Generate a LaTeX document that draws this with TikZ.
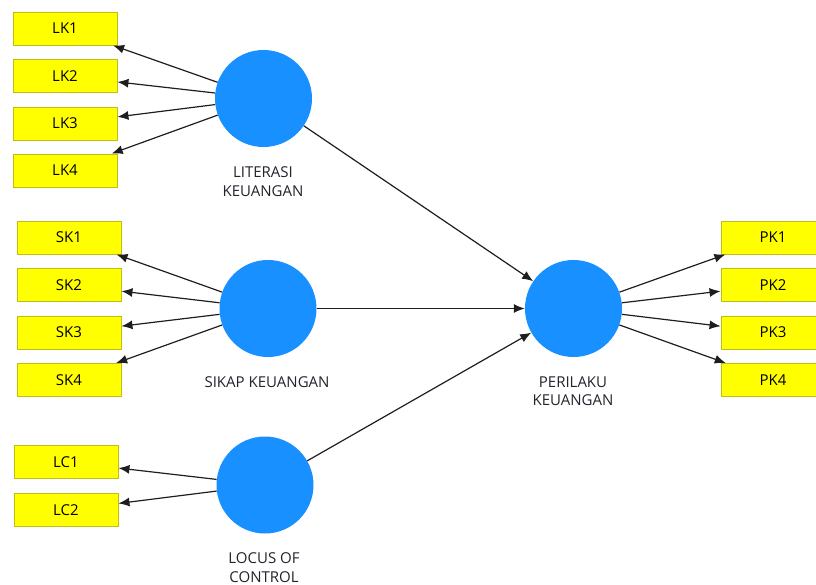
\documentclass[tikz,border=0pt]{standalone}
\usepackage{fontspec}
\setmainfont{Open Sans}
\usetikzlibrary{arrows.meta}
\definecolor{boxyellow}{RGB}{255,255,0}
\definecolor{boxedge}{RGB}{190,190,20}
\definecolor{latblue}{RGB}{24,144,255}
\definecolor{linegray}{RGB}{30,30,30}
\definecolor{labgray}{RGB}{35,35,45}
\tikzset{
  ind/.style={draw=boxedge, line width=0.9pt, fill=boxyellow, minimum width=104pt, minimum height=33pt, inner sep=0pt, font=\fontsize{15}{17}\selectfont},
  lat/.style={circle, fill=latblue, minimum size=97pt, inner sep=0pt},
  lab/.style={align=center, text=labgray, font=\fontsize{15}{18.5}\selectfont, inner sep=0pt},
  arr/.style={draw=linegray, line width=1.2pt, -{Latex[length=11pt,width=9pt]}}
}
\begin{document}
\begin{tikzpicture}[x=1pt,y=-1pt]
\useasboundingbox (0,0) rectangle (816,585);
\clip (0,0) rectangle (816,585);
% latent variables
\node[lat] (lit) at (263.5,98.5) {};
\node[lat] (sik) at (268,308.5) {};
\node[lat] (loc) at (265,485) {};
\node[lat] (per) at (573.5,308.5) {};
% labels
\node[lab] (litlab) at (263,181.5) {LITERASI\\KEUANGAN};
\node[lab] (siklab) at (267,382) {SIKAP KEUANGAN};
\node[lab] (loclab) at (264,567.5) {LOCUS OF\\CONTROL};
\node[lab] (perlab) at (573,391) {PERILAKU\\KEUANGAN};
% indicators
\node[ind] (lk1) at (65,28.5) {LK1};
\node[ind] (lk2) at (65,76) {LK2};
\node[ind] (lk3) at (65,123.5) {LK3};
\node[ind] (lk4) at (65,170.5) {LK4};
\node[ind] (sk1) at (69,237.5) {SK1};
\node[ind] (sk2) at (69,285) {SK2};
\node[ind] (sk3) at (69,332.5) {SK3};
\node[ind] (sk4) at (69,380) {SK4};
\node[ind] (lc1) at (66,462) {LC1};
\node[ind] (lc2) at (66,510) {LC2};
\node[ind] (pk1) at (773,237.5) {PK1};
\node[ind] (pk2) at (773,285) {PK2};
\node[ind] (pk3) at (773,332.5) {PK3};
\node[ind] (pk4) at (773,380) {PK4};
% connectors
\foreach \t in {lk1,lk2,lk3,lk4} \draw[arr] (lit) -- (\t);
\foreach \t in {sk1,sk2,sk3,sk4} \draw[arr] (sik) -- (\t);
\foreach \t in {lc1,lc2} \draw[arr] (loc) -- (\t);
\foreach \t in {pk1,pk2,pk3,pk4} \draw[arr] (per) -- (\t);
\draw[arr] (lit) -- (per);
\draw[arr] (sik) -- (per);
\draw[arr] (loc) -- (per);
\end{tikzpicture}
\end{document}
